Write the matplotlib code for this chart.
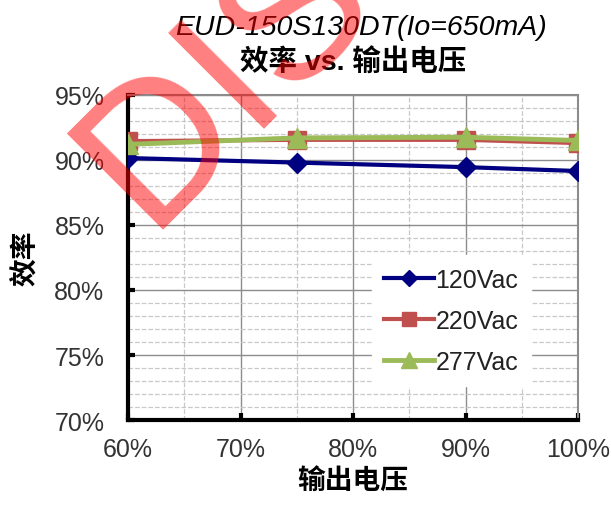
import numpy as np
import matplotlib
matplotlib.use("Agg")
import matplotlib.pyplot as plt
from matplotlib.ticker import MultipleLocator, FuncFormatter
from matplotlib.textpath import TextPath
from matplotlib.font_manager import FontProperties
from matplotlib.transforms import Affine2D

plt.rcParams['font.family'] = ['Liberation Sans', 'Noto Sans CJK SC', 'DejaVu Sans']

# output voltage (% of rated) and efficiency (%)
vout = [60, 75, 90, 100]
eff_120 = [90.15, 89.8, 89.45, 89.15]
eff_220 = [91.45, 91.55, 91.55, 91.3]
eff_277 = [91.2, 91.7, 91.75, 91.5]
labels = ['120Vac', '220Vac', '277Vac']
title1 = 'EUD-150S130DT(Io=650mA)'
title2 = '效率 vs. 输出电压'
stamp = 'DISCONTINUED'

fig = plt.figure(figsize=(6.11, 5.10), dpi=100)
ax = fig.add_axes([0.2095, 0.1745, 0.7365, 0.6373])

ax.plot(vout, eff_120, color='#000080', lw=3, marker='D', ms=10, label=labels[0], zorder=5)
ax.plot(vout, eff_220, color='#C0504D', lw=3, marker='s', ms=13, label=labels[1], zorder=6)
ax.plot(vout, eff_277, color='#9BBB59', lw=3.5, marker='^', ms=14, label=labels[2], zorder=7)

ax.set_xlim(60, 100)
ax.set_ylim(70, 95)
ax.xaxis.set_major_locator(MultipleLocator(10))
ax.xaxis.set_minor_locator(MultipleLocator(5))
ax.yaxis.set_major_locator(MultipleLocator(5))
ax.yaxis.set_minor_locator(MultipleLocator(1))
pct = FuncFormatter(lambda v, p: '%d%%' % v)
ax.xaxis.set_major_formatter(pct)
ax.yaxis.set_major_formatter(pct)

ax.grid(which='major', color='#8c8c8c', lw=1, ls='-')
ax.grid(which='minor', color='#c8c8c8', lw=0.9, ls='--')
ax.set_axisbelow(True)

for s in ['left', 'bottom']:
    ax.spines[s].set_linewidth(3)
    ax.spines[s].set_color('black')
for s in ['top', 'right']:
    ax.spines[s].set_linewidth(1.5)
    ax.spines[s].set_color('#8c8c8c')

ax.tick_params(which='major', direction='in', length=5, width=3, labelsize=18,
               labelcolor='#333333', top=False, right=False)
ax.tick_params(which='minor', length=0)
ax.tick_params(axis='y', pad=17)
ax.tick_params(axis='x', pad=12)

ax.set_xlabel('输出电压', fontsize=20, fontweight='bold', labelpad=6)
ax.set_ylabel('效率', fontsize=20, fontweight='bold', labelpad=10)

fig.text(0.5915, 0.945, title1, fontsize=20.5, style='italic', ha='center', va='center')
fig.text(0.578, 0.878, title2, fontsize=20.5, fontweight='bold', ha='center', va='center')

leg = ax.legend(loc='center', bbox_to_anchor=(0.718, 0.305), fontsize=18,
                frameon=True, framealpha=1, edgecolor='white', fancybox=False,
                handlelength=2.0, handletextpad=0.05, labelspacing=0.68,
                borderpad=0.5, markerscale=0.8)
for t in leg.get_texts():
    t.set_color('#222222')

# watermark: size/place it so the rotated "D" fills the box seen in the picture
fp = FontProperties(family='Liberation Sans')
ext = TextPath((0, 0), stamp[0], size=1, prop=fp).get_extents(Affine2D().rotate_deg(45))
px = 152 / ext.width              # pixels per em
x0 = 63 - ext.x0 * px
y0 = 292 - ext.y0 * px
fig.text(x0 / 611, y0 / 510, stamp, fontproperties=fp, fontsize=px * 72 / 100,
         color='red', alpha=0.5, rotation=45, rotation_mode='anchor',
         ha='left', va='baseline', zorder=20)

fig.savefig('out.png', dpi=100)
